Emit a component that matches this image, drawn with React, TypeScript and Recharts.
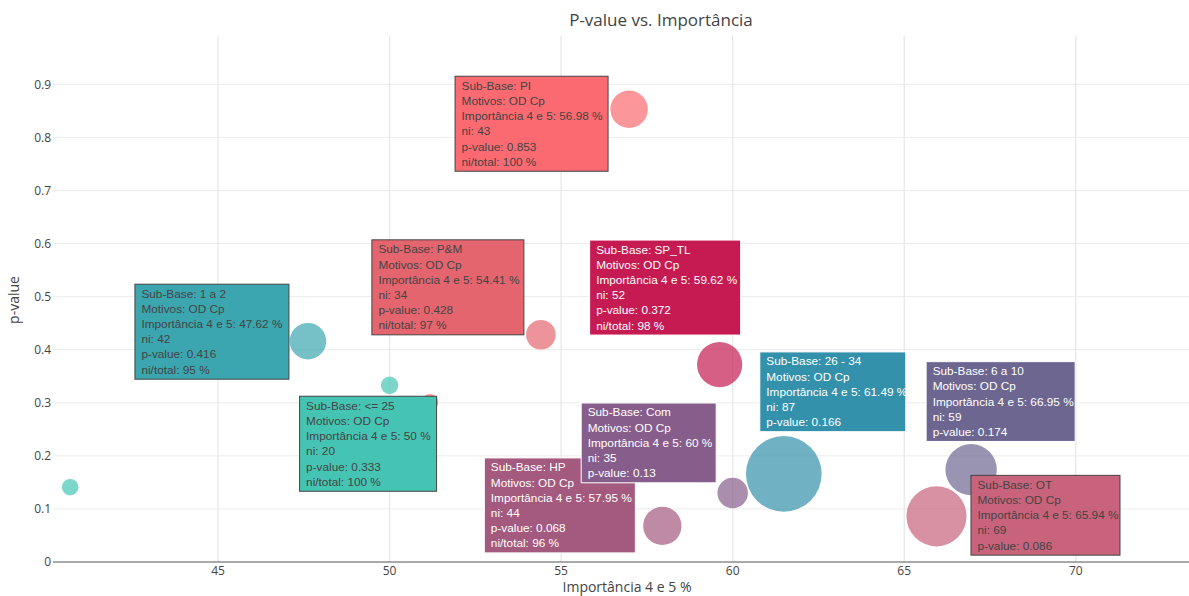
import React from 'react';
import { ScatterChart, Scatter, XAxis, YAxis, ZAxis, CartesianGrid, Cell } from 'recharts';

// one entry per sub-base; the first two bubbles carry no hover label in the picture
const subBases = ['', '', '1 a 2', '<= 25', 'P&M', 'PI', 'SP_TL', 'HP', 'Com', '26 - 34', '6 a 10', 'OT'];
const importancia = [40.69, 51.18, 47.62, 50, 54.41, 56.98, 59.62, 57.95, 60, 61.49, 66.95, 65.94];
const pValues = [0.141, 0.301, 0.416, 0.333, 0.428, 0.853, 0.372, 0.068, 0.13, 0.166, 0.174, 0.086];
const niValues = [19, 19, 42, 20, 34, 43, 52, 44, 35, 87, 59, 69];
const niTotal: (number | null)[] = [null, null, 95, 100, 97, 100, 98, 96, null, null, null, null];
const motivo = 'OD Cp';

const colors = ['#46C4B3', '#FA6A70', '#3CA6B0', '#46C4B3', '#E5656F', '#FA6A70', '#C51B52', '#A45A7E', '#875E8B', '#3391AB', '#6C6690', '#C8637B'];
const darkText = [true, true, true, true, true, true, false, false, false, false, false, true];

const xTicks = [45, 50, 55, 60, 65, 70];
const yTicks = [0, 0.1, 0.2, 0.3, 0.4, 0.5, 0.6, 0.7, 0.8, 0.9];
const xDomain = [40.19, 73.3];
const yDomain = [0, 0.991];

// hover-label placement relative to the bubble centre: [left, top, width]
const labelBoxes: ([number, number, number] | null)[] = [
  null,
  null,
  [-173, -57, 154],
  [-90, 11, 137],
  [-169, -95, 152],
  [-174, -33, 153],
  [-130, -124.5, 151],
  [-178, -68, 151],
  [-151.5, -90, 135],
  [-24, -122, 146],
  [-45, -108, 149],
  [34.5, -41, 149],
];

const W = 1189;
const H = 596;
const maxNi = 87;
const maxDiameter = 75.7;

const rows = subBases.map((name, i) => ({
  name,
  x: importancia[i],
  y: pValues[i],
  ni: niValues[i],
  area: niValues[i] * niValues[i],
  total: niTotal[i],
  idx: i,
}));

const labelRows = rows.filter((r) => labelBoxes[r.idx]);

const LINE = 15.2;

const HoverBox = (props: any) => {
  const { cx, cy, payload } = props;
  const box = labelBoxes[payload.idx];
  if (!box || cx == null) return <g />;
  const lines = [
    `Sub-Base: ${payload.name}`,
    `Motivos: ${motivo}`,
    `Importância 4 e 5: ${payload.x} %`,
    `ni: ${payload.ni}`,
    `p-value: ${payload.y}`,
  ];
  if (payload.total != null) lines.push(`ni/total: ${payload.total} %`);
  const left = cx + box[0];
  const top = cy + box[1];
  const height = 13.5 + LINE * (lines.length - 1) + 5.5;
  const txt = darkText[payload.idx] ? '#444' : '#fff';
  return (
    <g>
      <rect x={left} y={top} width={box[2]} height={height} fill={colors[payload.idx]} stroke={txt} strokeWidth={1} />
      {lines.map((l, k) => (
        <text
          key={k}
          x={left + 6.5}
          y={top + 13.5 + k * LINE}
          fill={txt}
          fontSize={11.8}
          fontFamily='"Liberation Sans", Arial, sans-serif'
        >
          {l}
        </text>
      ))}
    </g>
  );
};

const tickStyle = { fontSize: 12, fill: '#444', fontFamily: '"Open Sans", sans-serif' };

// grid only at the tick values (no lines at the plot's top and left edges)
const hLines = (p: any) => {
  const o = p.offset;
  return yTicks.slice(1).map((t) => o.top + o.height * (1 - (t - yDomain[0]) / (yDomain[1] - yDomain[0])));
};
const vLines = (p: any) => {
  const o = p.offset;
  return xTicks.map((t) => o.left + (o.width * (t - xDomain[0])) / (xDomain[1] - xDomain[0]));
};

export default function App() {
  return (
    <div style={{ position: 'absolute', left: 0, top: 0, width: W, height: H, background: '#fff' }}>
      <ScatterChart width={W} height={H} margin={{ top: 36, right: 0, bottom: 0, left: 0 }}>
        <CartesianGrid vertical={false} stroke="#ececec" strokeWidth={1} horizontalCoordinatesGenerator={hLines} />
        <CartesianGrid horizontal={false} stroke="#e9e9e9" strokeWidth={1.4} verticalCoordinatesGenerator={vLines} />
        <XAxis
          type="number"
          dataKey="x"
          domain={xDomain}
          ticks={xTicks}
          allowDataOverflow
          height={34}
          tickSize={0}
          tickMargin={4}
          tick={tickStyle}
          axisLine={{ stroke: '#555', strokeWidth: 1 }}
        />
        <YAxis
          type="number"
          dataKey="y"
          domain={yDomain}
          ticks={yTicks}
          allowDataOverflow
          width={53}
          tickSize={0}
          tickMargin={2}
          tick={tickStyle}
          axisLine={false}
        />
        <ZAxis
          type="number"
          dataKey="area"
          domain={[0, maxNi * maxNi]}
          range={[0, Math.PI * (maxDiameter / 2) * (maxDiameter / 2)]}
        />
        <Scatter data={rows} isAnimationActive={false}>
          {rows.map((r) => (
            <Cell key={r.idx} fill={colors[r.idx]} fillOpacity={0.7} />
          ))}
        </Scatter>
        <Scatter data={labelRows} isAnimationActive={false} shape={HoverBox} />
      </ScatterChart>
      <svg
        width={W}
        height={H}
        style={{ position: 'absolute', left: 0, top: 0, pointerEvents: 'none' }}
        fontFamily='"Open Sans", sans-serif'
      >
        <text x={661} y={26} textAnchor="middle" fontSize={17} fill="#444">
          P-value vs. Importância
        </text>
        <text x={627} y={592} textAnchor="middle" fontSize={14} fill="#444">
          Importância 4 e 5 %
        </text>
        <text x={19} y={300} textAnchor="middle" fontSize={14} fill="#444" transform="rotate(-90 19 300)">
          p-value
        </text>
      </svg>
    </div>
  );
}
